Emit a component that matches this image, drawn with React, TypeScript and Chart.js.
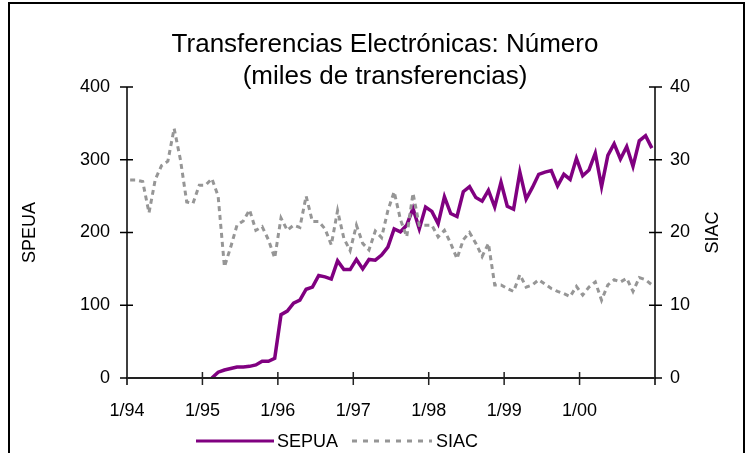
import { useEffect, useRef } from 'react';
import { Chart, registerables } from 'chart.js';

Chart.register(...registerables);

// Month index 0 = 1/94 ... 83 = 12/00
const years = ['94', '95', '96', '97', '98', '99', '00'];
const months = years.flatMap((yy) => Array.from({ length: 12 }, (_, m) => `${m + 1}/${yy}`));
const tickLabels = ['1/94', '1/95', '1/96', '1/97', '1/98', '1/99', '1/00', ''];

const titleLines = ['Transferencias Electrónicas: Número', '(miles de transferencias)'];
const leftTitle = 'SPEUA';
const rightTitle = 'SIAC';
const seriesNames = ['SEPUA', 'SIAC'];

const sepua: (number | null)[] = [
  null, null, null, null, null, null, null, null, null, null, null, null,
  null, 0, 8, 11, 13, 15, 15, 16, 18, 23, 23, 27,
  87, 92, 103, 107, 122, 125, 141, 139, 136, 161, 149, 149,
  163, 150, 163, 162, 169, 180, 205, 201, 210, 233, 205, 235,
  229, 212, 249, 226, 222, 256, 263, 248, 243, 258, 235, 269,
  236, 232, 283, 246, 262, 280, 283, 285, 264, 280, 273, 302,
  278, 286, 309, 263, 306, 322, 301, 318, 291, 326, 333, 316,
];

const siac: number[] = [
  27.2, 27.2, 27, 22.7, 27.3, 29.2, 29.8, 34.3, 30, 24.2, 24, 26.5,
  26.5, 27.4, 25, 15.3, 18, 21, 21.6, 23.1, 20.3, 20.8, 19, 16.5,
  22, 20.3, 21, 20.7, 25, 21.5, 21.5, 20.5, 18.3, 23, 19.2, 17.5,
  21, 18.5, 17.6, 20.2, 19.3, 23, 25.6, 21.8, 19.4, 25.4, 21, 21,
  21, 19.4, 20.3, 18.5, 16.4, 19, 20, 18.5, 16.7, 18.5, 12.8, 12.8,
  12.3, 11.9, 14.2, 12.5, 12.8, 13.5, 12.9, 12.3, 11.9, 11.6, 11.2, 12.6,
  11.4, 12.5, 13.2, 10.7, 12.8, 13.5, 13.2, 13.7, 11.9, 13.8, 13.5, 12.8,
];

const PURPLE = '#800080';
const GRAY = '#969696';
const FONT = '"Liberation Sans", Arial, sans-serif';

const decoPlugin = {
  id: 'deco',
  afterDraw(chart: any) {
    const { ctx, scales } = chart;
    const x = scales.x;
    const y = scales.y;
    const y1 = scales.y1;
    const L = x.getPixelForValue(0);
    const R = x.getPixelForValue(84);
    const B = y.getPixelForValue(0);
    const T = y.getPixelForValue(400);
    ctx.save();

    // outer frame
    ctx.strokeStyle = '#000';
    ctx.lineWidth = 2;
    ctx.beginPath();
    ctx.moveTo(9, 470);
    ctx.lineTo(9, 3);
    ctx.lineTo(744, 3);
    ctx.lineTo(744, 470);
    ctx.stroke();

    // vertical axes
    ctx.lineWidth = 1.5;
    ctx.strokeStyle = '#000';
    ctx.beginPath();
    ctx.moveTo(L, T);
    ctx.lineTo(L, B + 7);
    ctx.moveTo(R, T);
    ctx.lineTo(R, B + 7);
    ctx.stroke();
    // y ticks
    ctx.beginPath();
    for (let v = 0; v <= 400; v += 100) {
      const p = y.getPixelForValue(v);
      ctx.moveTo(L - 7, p);
      ctx.lineTo(L + 6, p);
    }
    for (let v = 0; v <= 40; v += 10) {
      const p = y1.getPixelForValue(v);
      ctx.moveTo(R - 6, p);
      ctx.lineTo(R + 7, p);
    }
    ctx.stroke();
    // x axis
    ctx.strokeStyle = '#222';
    ctx.lineWidth = 2;
    ctx.beginPath();
    ctx.moveTo(L, B);
    ctx.lineTo(R, B);
    ctx.stroke();
    ctx.lineWidth = 1.5;
    ctx.beginPath();
    for (let m = 12; m < 84; m += 12) {
      const p = x.getPixelForValue(m);
      ctx.moveTo(p, B - 6);
      ctx.lineTo(p, B + 7);
    }
    ctx.stroke();

    // title
    ctx.fillStyle = '#000';
    ctx.textAlign = 'center';
    ctx.textBaseline = 'alphabetic';
    ctx.font = `26px ${FONT}`;
    ctx.fillText(titleLines[0], 385, 52);
    ctx.fillText(titleLines[1], 385, 84);

    // axis titles
    ctx.font = `18px ${FONT}`;
    ctx.textBaseline = 'middle';
    ctx.save();
    ctx.translate(30, (T + B) / 2);
    ctx.rotate(-Math.PI / 2);
    ctx.fillText(leftTitle, 0, 0);
    ctx.restore();
    ctx.save();
    ctx.translate(713, (T + B) / 2);
    ctx.rotate(-Math.PI / 2);
    ctx.fillText(rightTitle, 0, 0);
    ctx.restore();

    // legend
    const ly = 441;
    ctx.textAlign = 'left';
    ctx.lineWidth = 3;
    ctx.strokeStyle = PURPLE;
    ctx.beginPath();
    ctx.moveTo(196, ly);
    ctx.lineTo(274, ly);
    ctx.stroke();
    ctx.fillText(seriesNames[0], 277, ly + 1);
    ctx.strokeStyle = GRAY;
    ctx.setLineDash([5, 6]);
    ctx.beginPath();
    ctx.moveTo(352, ly);
    ctx.lineTo(432, ly);
    ctx.stroke();
    ctx.setLineDash([]);
    ctx.fillText(seriesNames[1], 436, ly + 1);

    ctx.restore();
  },
};

export default function App() {
  const ref = useRef<HTMLCanvasElement>(null);
  useEffect(() => {
    if (!ref.current) return;
    const chart = new Chart(ref.current, {
      type: 'line',
      data: {
        datasets: [
          {
            label: seriesNames[1],
            data: siac.map((v, i) => ({ x: i + 0.5, y: v, m: months[i] })),
            yAxisID: 'y1',
            borderColor: GRAY,
            borderWidth: 3,
            borderDash: [5, 4],
            pointRadius: 0,
            tension: 0,
            fill: false,
          },
          {
            label: seriesNames[0],
            data: sepua.map((v, i) => ({ x: i + 0.5, y: v, m: months[i] })),
            yAxisID: 'y',
            borderColor: PURPLE,
            borderWidth: 3.5,
            pointRadius: 0,
            tension: 0,
            fill: false,
            spanGaps: false,
          },
        ],
      } as any,
      plugins: [decoPlugin],
      options: {
        responsive: false,
        animation: false,
        devicePixelRatio: 1,
        layout: { padding: { top: 87, left: 0, right: 0, bottom: 0 } },
        plugins: {
          legend: { display: false },
          title: { display: false },
          tooltip: { enabled: false },
        },
        scales: {
          x: {
            type: 'linear',
            min: 0,
            max: 84,
            afterBuildTicks: (s: any) => {
              s.ticks = [0, 12, 24, 36, 48, 60, 72].map((v) => ({ value: v }));
            },
            afterFit: (s: any) => {
              s.height = 75;
            },
            grid: { display: false, drawTicks: false },
            border: { display: false },
            ticks: {
              maxRotation: 0,
              autoSkip: false,
              padding: 22,
              color: '#000',
              font: { family: FONT, size: 18 },
              callback: (v: any) => tickLabels[Math.round(Number(v) / 12)] ?? '',
            },
          },
          y: {
            type: 'linear',
            position: 'left',
            min: 0,
            max: 400,
            afterFit: (s: any) => {
              s.width = 127;
            },
            grid: { display: false, drawTicks: false },
            border: { display: false },
            ticks: {
              stepSize: 100,
              padding: 17,
              color: '#000',
              font: { family: FONT, size: 18 },
            },
          },
          y1: {
            type: 'linear',
            position: 'right',
            min: 0,
            max: 40,
            afterFit: (s: any) => {
              s.width = 94;
            },
            grid: { display: false, drawTicks: false },
            border: { display: false },
            ticks: {
              stepSize: 10,
              padding: 15,
              color: '#000',
              font: { family: FONT, size: 18 },
            },
          },
        },
      },
    });
    return () => chart.destroy();
  }, []);
  return (
    <div style={{ position: 'fixed', left: 0, top: 0, width: 749, height: 453, background: '#fff' }}>
      <canvas ref={ref} width={749} height={453} />
    </div>
  );
}
